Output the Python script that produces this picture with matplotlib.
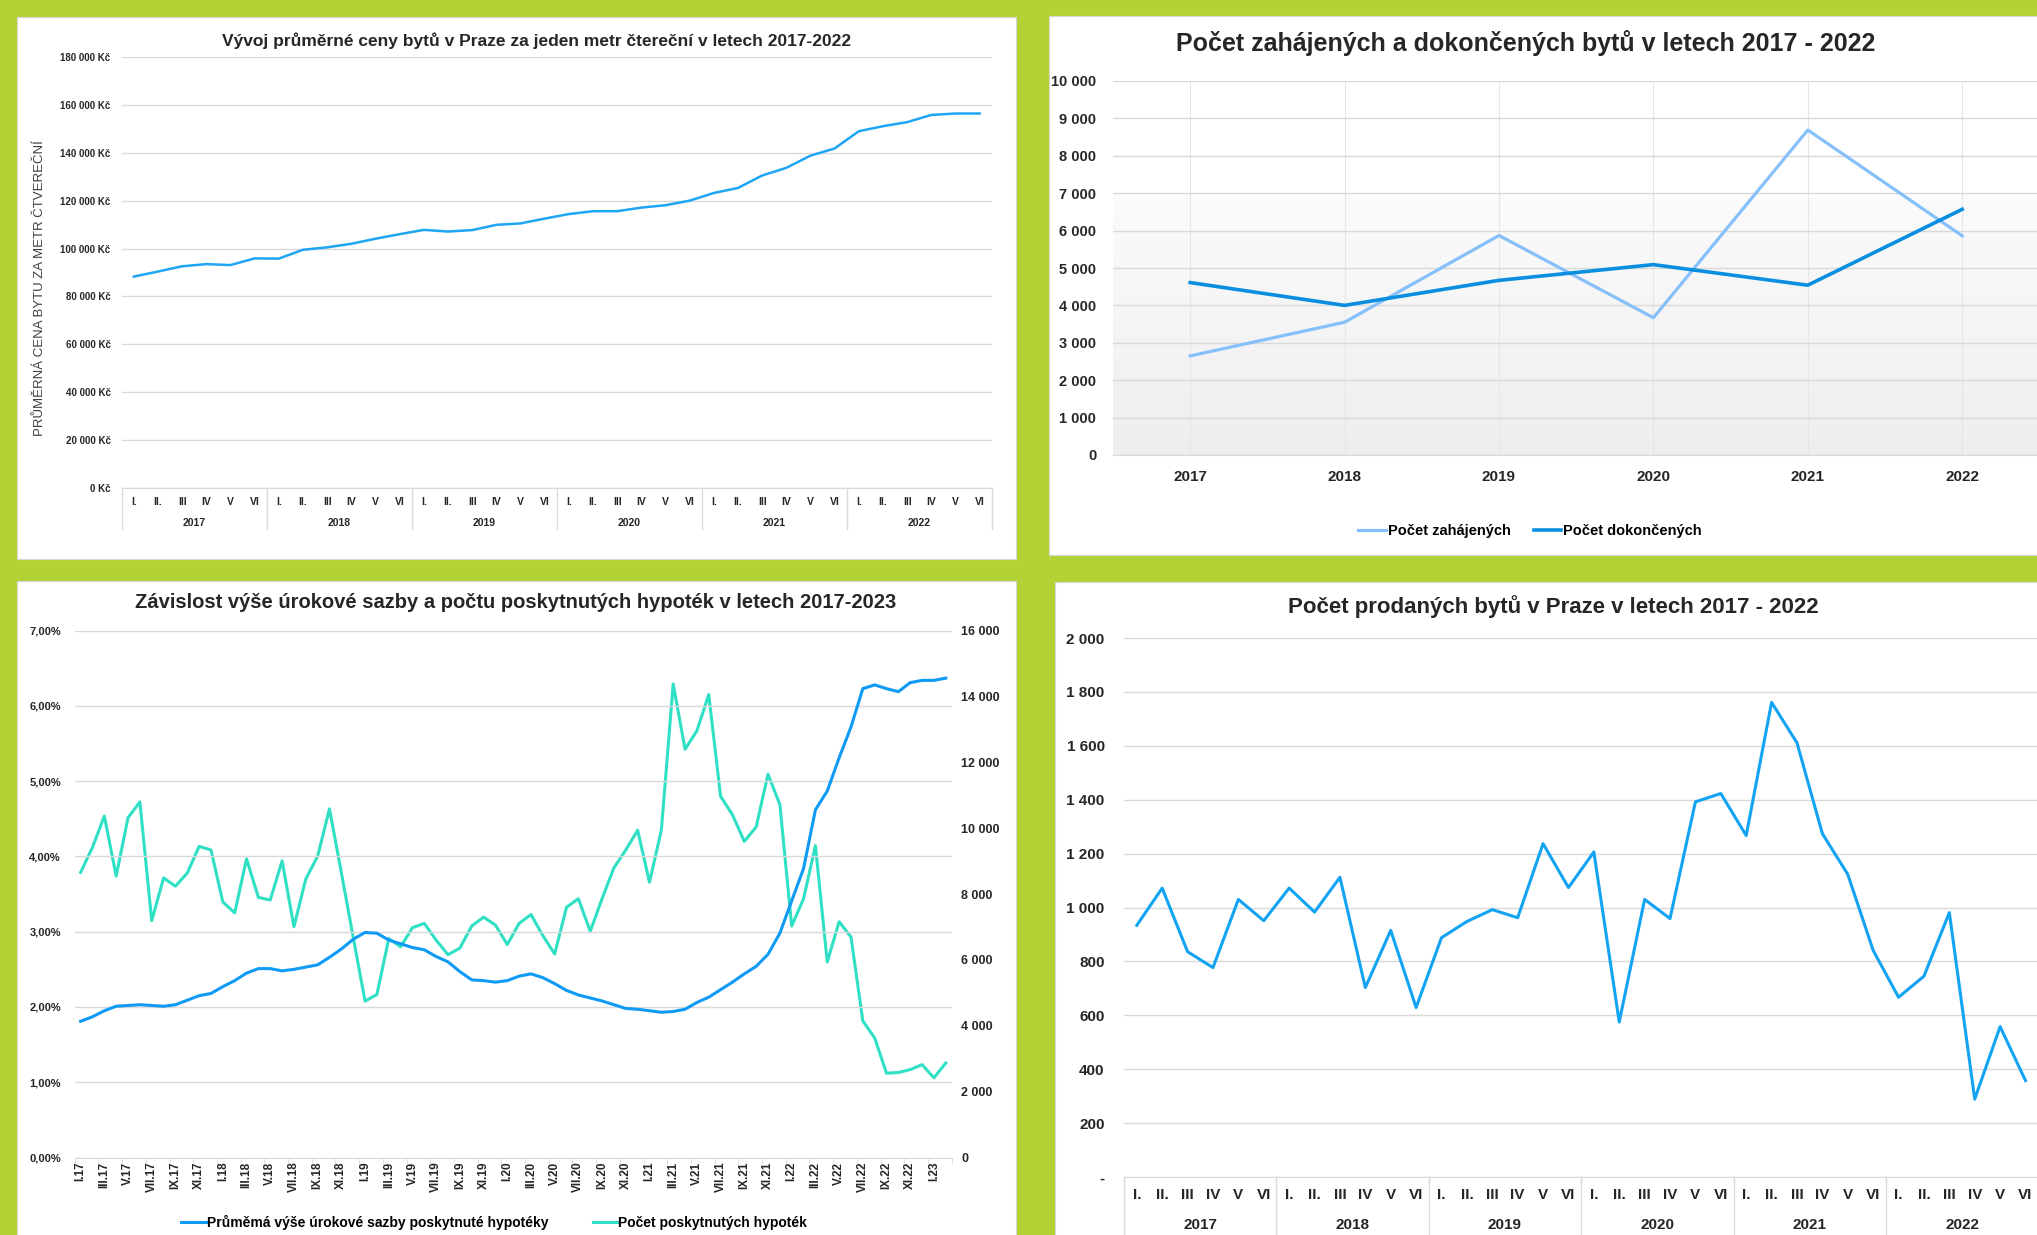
import numpy as np
import matplotlib
matplotlib.use("Agg")
import matplotlib.pyplot as plt
from matplotlib.patches import Rectangle
from matplotlib.colors import LinearSegmentedColormap

W, H = 2037, 1235
GREEN = "#b3d236"
GRID = "#d9d9d9"
TXT = "#262626"
NARROW = ["Liberation Sans Narrow", "Liberation Sans", "DejaVu Sans"]
plt.rcParams["font.family"] = NARROW
plt.rcParams["font.weight"] = "bold"

# --- data -------------------------------------------------------------
roman = ["I.", "II.", "III", "IV", "V", "VI"]
years = ["2017", "2018", "2019", "2020", "2021", "2022"]

# average price per m2 in Prague (Kc)
price_m2 = [88300, 90400, 92600, 93500, 93100, 95900,
            95800, 99500, 100500, 102000, 104100, 106000,
            107800, 107100, 107700, 109900, 110500, 112500,
            114400, 115600, 115600, 117100, 118100, 120000,
            123200, 125300, 130500, 133700, 138800, 141800,
            149000, 151100, 152800, 155800, 156400, 156400]

# started / finished flats
zahajene = [2650, 3550, 5870, 3670, 8690, 5860]
dokoncene = [4610, 4000, 4670, 5090, 4540, 6570]

# mortgages, monthly I.17 .. II.23
hyp_labels = ["I.17", "III.17", "V.17", "VII.17", "IX.17", "XI.17",
              "I.18", "III.18", "V.18", "VII.18", "IX.18", "XI.18",
              "I.19", "III.19", "V.19", "VII.19", "IX.19", "XI.19",
              "I.20", "III.20", "V.20", "VII.20", "IX.20", "XI.20",
              "I.21", "III.21", "V.21", "VII.21", "IX.21", "XI.21",
              "I.22", "III.22", "V.22", "VII.22", "IX.22", "XI.22",
              "I.23"]
rate = [1.81, 1.87, 1.95, 2.01, 2.02, 2.03, 2.02, 2.01, 2.03, 2.09, 2.15, 2.18,
        2.27, 2.35, 2.45, 2.51, 2.51, 2.48, 2.50, 2.53, 2.56, 2.66, 2.77, 2.90,
        2.99, 2.98, 2.89, 2.84, 2.79, 2.76, 2.67, 2.60, 2.47, 2.36, 2.35, 2.33,
        2.35, 2.41, 2.44, 2.39, 2.31, 2.22, 2.16, 2.12, 2.08, 2.03, 1.98, 1.97,
        1.95, 1.93, 1.94, 1.97, 2.06, 2.13, 2.23, 2.33, 2.44, 2.54, 2.70, 2.98,
        3.41, 3.84, 4.62, 4.87, 5.31, 5.72, 6.23, 6.28, 6.23, 6.19, 6.31, 6.34,
        6.34, 6.37]
mortgages = [8660, 9420, 10370, 8550, 10320, 10800, 7190, 8490, 8240, 8640, 9450, 9340,
             7760, 7430, 9070, 7900, 7820, 9010, 7010, 8460, 9150, 10590, 8650, 6690,
             4750, 4950, 6650, 6400, 6980, 7110, 6600, 6160, 6360, 7030, 7300, 7060,
             6470, 7110, 7380, 6740, 6180, 7600, 7860, 6870, 7860, 8800, 9340, 9940,
             8360, 9940, 14380, 12400, 12960, 14060, 10970, 10410, 9600, 10040, 11640, 10720,
             7030, 7860, 9470, 5940, 7160, 6700, 4150, 3630, 2560, 2580, 2670, 2820,
             2420, 2870]

# sold flats in Prague
sold = [934, 1072, 836, 777, 1030, 951,
        1072, 983, 1112, 703, 915, 629,
        888, 948, 992, 962, 1237, 1074,
        1206, 575, 1030, 959, 1392, 1423,
        1267, 1761, 1611, 1274, 1123, 841,
        667, 745, 981, 289, 558, 358]


def box(l, t, r, b):
    return [l / W, 1 - b / H, (r - l) / W, (b - t) / H]


def panel(l, t, r, b):
    fig.add_artist(Rectangle((l / W, 1 - b / H), (r - l) / W, (b - t) / H,
                             transform=fig.transFigure, facecolor="white",
                             edgecolor="#d6d6d6", lw=0.8, zorder=0))


def clean(ax):
    for s in ["top", "right", "left"]:
        ax.spines[s].set_visible(False)
    ax.spines["bottom"].set_color(GRID)
    ax.set_facecolor("none")


def year_axis(ax, n, height_px, lab_px, year_px, sep_px, size):
    # two level category axis: roman periods + years
    ax.set_xticks(range(n))
    ax.set_xticklabels(roman * len(years), fontsize=size, color=TXT)
    ax.tick_params(axis="x", length=0, pad=lab_px)
    tr = ax.get_xaxis_transform()
    for k, y in enumerate(years):
        ax.text(6 * k + 2.5, -year_px / height_px, y, transform=tr, ha="center",
                va="center", fontsize=size, color=TXT)
    for k in range(len(years) + 1):
        ax.plot([6 * k - 0.5] * 2, [0, -sep_px / height_px], transform=tr,
                color=GRID, lw=1, clip_on=False)


fig = plt.figure(figsize=(W / 100, H / 100), dpi=100)
fig.patch.set_facecolor(GREEN)

panel(17, 17, 1016, 559)
panel(1049, 16, 2040, 555)
panel(17, 581, 1016, 1240)
panel(1055, 582, 2040, 1240)

# --- top left: price per m2 ----------------------------------------------
ax1 = fig.add_axes(box(121.7, 57, 991.7, 488))
clean(ax1)
ax1.plot(range(len(price_m2)), price_m2, color="#1ea5f4", lw=1.8)
ax1.set_xlim(-0.5, 35.5)
ax1.set_ylim(0, 180000)
ax1.set_yticks(range(0, 180001, 20000))
ax1.set_yticklabels([f"{v:,}".replace(",", " ") + " Kč" for v in range(0, 180001, 20000)],
                    fontsize=7, color=TXT)
ax1.tick_params(axis="y", length=0, pad=8)
ax1.grid(axis="y", color=GRID, lw=1)
ax1.set_axisbelow(True)
year_axis(ax1, 36, 431, 6.5, 35, 41, 7.5)
fig.text(537 / W, 1 - 41 / H, "Vývoj průměrné ceny bytů v Praze za jeden metr čtereční v letech 2017-2022",
         ha="center", va="center", fontsize=12.5, color=TXT)
fig.text(40 / W, 1 - 288 / H, "PRŮMĚRNÁ CENA BYTU ZA METR ČTVEREČNÍ", rotation=90,
         ha="center", va="center", fontsize=9.5, fontweight="normal", color="#404040",
         family=["Liberation Sans", "DejaVu Sans"])

# --- top right: started / finished ---------------------------------------
ax2 = fig.add_axes(box(1113, 81, 2039.4, 455))
clean(ax2)
grad = np.linspace(0, 1, 256).reshape(-1, 1)
cmap = LinearSegmentedColormap.from_list("bg", [(0, "#eeeeee"), (0.68, "#fbfbfb"), (0.7, "#ffffff"), (1, "#ffffff")])
ax2.imshow(grad, extent=[-0.5, 5.5, 0, 10000], origin="lower", aspect="auto", cmap=cmap, zorder=0)
x2 = range(len(years))
ax2.plot(x2, zahajene, color="#86c0fb", lw=2.3, label="Počet zahájených", zorder=3)
ax2.plot(x2, dokoncene, color="#0a8fe0", lw=2.6, label="Počet dokončených", zorder=3)
ax2.set_xlim(-0.5, 5.5)
ax2.set_ylim(0, 10000)
ax2.set_yticks(range(0, 10001, 1000))
ax2.set_yticklabels([f"{v:,}".replace(",", " ") for v in range(0, 10001, 1000)], fontsize=10.5, color=TXT)
ax2.set_xticks(list(x2))
ax2.set_xticklabels(years, fontsize=11, color=TXT)
ax2.tick_params(axis="y", length=0, pad=12)
ax2.tick_params(axis="x", length=0, pad=11)
ax2.grid(axis="y", color=GRID, lw=1)
ax2.grid(axis="x", color="#e6e6e6", lw=0.8)
ax2.set_axisbelow(True)
fig.legend(handles=ax2.get_lines(), loc="center", bbox_to_anchor=(1530 / W, 1 - 531 / H),
           ncol=2, frameon=False, fontsize=10.5, handlelength=1.9, columnspacing=1.6,
           handletextpad=0.1)
fig.text(1526 / W, 1 - 43 / H, "Počet zahájených a dokončených bytů v letech 2017 - 2022",
         ha="center", va="center", fontsize=18, color=TXT)

# --- bottom left: rate vs mortgages --------------------------------------
ax3 = fig.add_axes(box(74.7, 630.7, 951.7, 1157.5))
clean(ax3)
n3 = len(rate)
x3 = range(n3)
ax3.set_xlim(-0.5, n3 - 0.5)
ax3.set_ylim(0, 7)
ax3.set_yticks(range(0, 8))
ax3.set_yticklabels([f"{v:.2f}".replace(".", ",") + "%" for v in range(0, 8)], fontsize=8, color=TXT)
ax3.tick_params(axis="y", length=0, pad=10)
ax3.grid(axis="y", color=GRID, lw=1)
ax3.set_axisbelow(True)
ax3.set_xticks(range(0, n3, 2))
ax3.set_xticklabels(hyp_labels, rotation=90, fontsize=8.5, color=TXT)
ax3.set_xticks(np.arange(-0.5, n3, 2), minor=True)
ax3.tick_params(axis="x", which="major", length=0, pad=3)
ax3.tick_params(axis="x", which="minor", length=4, color=GRID)
l_rate, = ax3.plot(x3, rate, color="#0f9af5", lw=2.2, zorder=4,
                   label="Průměmá výše úrokové sazby poskytnuté hypotéky")
ax3b = ax3.twinx()
clean(ax3b)
ax3b.spines["bottom"].set_visible(False)
l_cnt, = ax3b.plot(x3, mortgages, color="#2fe0c4", lw=2.2, zorder=3,
                   label="Počet poskytnutých hypoték")
ax3b.set_ylim(0, 16000)
ax3b.set_yticks(range(0, 16001, 2000))
ax3b.set_yticklabels([f"{v:,}".replace(",", " ") for v in range(0, 16001, 2000)], fontsize=9, color=TXT)
ax3b.tick_params(axis="y", length=0, pad=7)
ax3.set_zorder(ax3b.get_zorder() + 1)
fig.legend(handles=[l_rate, l_cnt], loc="center", bbox_to_anchor=(494 / W, 1 - 1222 / H),
           ncol=2, frameon=False, fontsize=10, handlelength=1.8, columnspacing=3.2,
           handletextpad=0.05)
fig.text(516 / W, 1 - 603 / H,
         "Závislost výše úrokové sazby a počtu poskytnutých hypoték v letech 2017-2023",
         ha="center", va="center", fontsize=14.5, color=TXT)

# --- bottom right: sold flats ------------------------------------------
ax4 = fig.add_axes(box(1124.1, 638, 2038.2, 1177))
clean(ax4)
ax4.plot(range(len(sold)), sold, color="#12a3f2", lw=2.2)
ax4.set_xlim(-0.5, 35.5)
ax4.set_ylim(0, 2000)
ax4.set_yticks(range(0, 2001, 200))
ax4.set_yticklabels(["-"] + [f"{v:,}".replace(",", " ") for v in range(200, 2001, 200)],
                    fontsize=11, color=TXT)
ax4.tick_params(axis="y", length=0, pad=14)
ax4.grid(axis="y", color=GRID, lw=1)
ax4.set_axisbelow(True)
year_axis(ax4, 36, 539, 8, 48, 70, 11)
fig.text(1553 / W, 1 - 607 / H, "Počet prodaných bytů v Praze v letech 2017 - 2022",
         ha="center", va="center", fontsize=16, color=TXT)

fig.savefig("out.png", dpi=100, facecolor=GREEN)
